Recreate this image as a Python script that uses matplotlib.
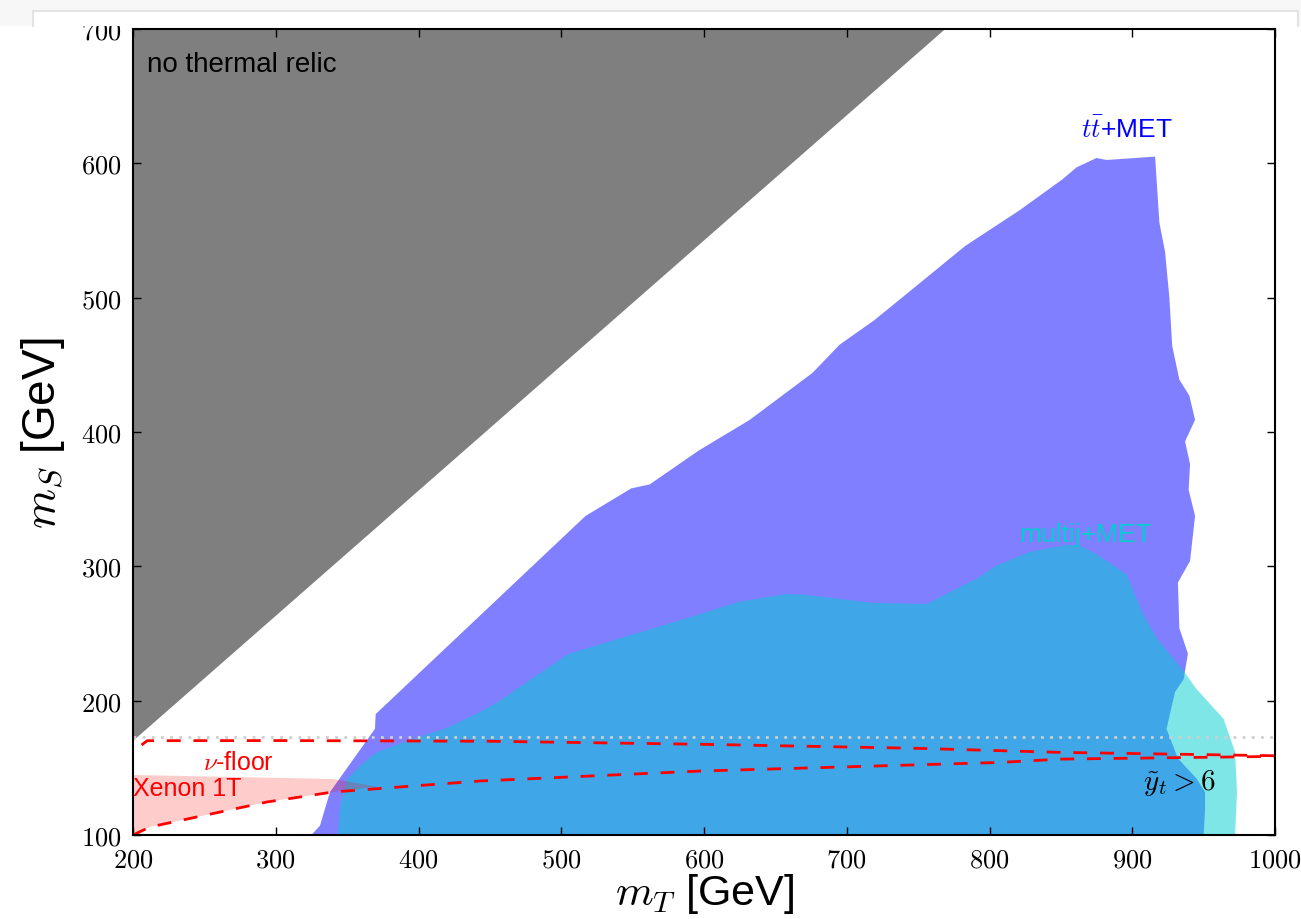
import numpy as np
import matplotlib
matplotlib.use('Agg')
import matplotlib.pyplot as plt
from matplotlib.patches import Rectangle
from matplotlib.lines import Line2D

plt.rcParams['font.family'] = ['Liberation Sans', 'DejaVu Sans']
plt.rcParams['mathtext.fontset'] = 'cm'

# m_T, m_S boundaries (GeV)
relic_mT = [200, 769, 200]
relic_mS = [170, 700, 700]

ttmet_mT = [325, 331, 338, 369.5, 370, 517, 549, 562, 596, 632, 676, 695, 719, 741,
            783, 821, 851, 861, 875, 882, 916, 919, 923, 926, 928, 933, 940, 944,
            937, 940.5, 939.5, 944, 940.5, 932, 933, 939, 936, 930, 924, 932, 945,
            951, 951, 950]
ttmet_mS = [100, 107, 132, 179, 190, 337.5, 358, 361, 386, 409, 444, 465, 483, 502,
            538.5, 565, 588, 597, 604, 602.5, 605, 556, 534, 500, 464, 439, 427, 409,
            393, 376, 357, 337.5, 304, 288, 254, 235, 216, 206.5, 179, 157, 142,
            132, 119, 100]

multij_mT = [343.6, 345, 350, 359, 367, 373, 396, 420, 443, 454, 505, 549, 590, 624,
             658, 671.5, 719, 756, 793, 804, 828, 855, 865, 875, 896, 907.5, 917,
             936, 945, 964, 972, 973.4, 972]
multij_mS = [100, 121.6, 141.7, 151.4, 158.8, 162.5, 171.5, 179.7, 191.6, 198, 234.7,
             249, 262, 273.5, 279.4, 278.7, 272.7, 272, 292, 300, 310.7, 316.2, 314.5,
             309, 294, 264.5, 246.6, 222, 208.7, 186.4, 161.8, 132, 100]

nufloor_mT = [206, 210, 300, 450, 600, 750, 850, 1000]
nufloor_mS = [167, 170.2, 170.3, 169.8, 167.5, 164.5, 161.5, 159]

xenon_mT = [200, 212, 294, 340, 443, 597, 807, 850, 1000]
xenon_mS = [100, 106, 124.6, 132, 140.2, 147.6, 154, 156.5, 158.5]

# Xenon 1T excluded band: lower edge follows the limit curve up to 340 GeV
band_mT = [200, 212, 294, 340, 371, 340, 200]
band_mS = [100, 106, 124.6, 132, 136, 141.7, 144.7]

m_top = 173

xticks = [200, 300, 400, 500, 600, 700, 800, 900, 1000]
yticks = [100, 200, 300, 400, 500, 600, 700]

fig = plt.figure(figsize=(13.01, 9.2), dpi=100)
ax = fig.add_axes([133 / 1301, 1 - 836 / 920, 1142 / 1301, 806 / 920])

ax.fill(relic_mT, relic_mS, color='black', alpha=0.5, lw=0)
ax.fill(ttmet_mT, ttmet_mS, color='blue', alpha=0.5, lw=0)
ax.fill(multij_mT, multij_mS, color='darkturquoise', alpha=0.5, lw=0)
ax.fill(band_mT, band_mS, color='red', alpha=0.2, lw=0)

ax.plot([200, 1000], [m_top, m_top], color='#cfcfcf', lw=2, dashes=(1, 2.3))
ax.plot(nufloor_mT, nufloor_mS, color='red', lw=2, dashes=(5, 4.6))
ax.plot(xenon_mT, xenon_mS, color='red', lw=2, dashes=(5, 4.6))

ax.text(210, 668.7, 'no thermal relic', fontsize=20, color='black', va='baseline')
ax.text(896, 619.6, r'$t\bar{t}$+MET', fontsize=19, color='blue', ha='center', va='baseline')
ax.text(867, 319, 'multij+MET', fontsize=19, color='darkturquoise', ha='center', va='baseline')
ax.text(274, 149, r'$\nu$-floor', fontsize=18, color='red', ha='center', va='baseline')
ax.text(200.2, 135.2, 'Xenon 1T', fontsize=18, color='red', ha='left', va='center')
ax.text(933, 134.2, r'$\tilde{y}_t > 6$', fontsize=21, color='black', ha='center', va='baseline')

ax.set_xlim(200, 1000)
ax.set_ylim(100, 700)
ax.set_xticks(xticks)
ax.set_yticks(yticks)
ax.set_xticklabels(['$%d$' % v for v in xticks])
ax.set_yticklabels(['$%d$' % v for v in yticks])
ax.tick_params(direction='in', length=6, width=1, labelsize=19, top=True, right=True)
ax.tick_params(axis='x', pad=9)
ax.tick_params(axis='y', pad=8)
for sp in ax.spines.values():
    sp.set_linewidth(1.5)

ax.set_xlabel(r'$m_T$ [GeV]', fontsize=31, labelpad=0)
ax.set_ylabel(r'$m_S$ [GeV]', fontsize=33, labelpad=10)

# header strip along the top edge
W, H = 1301, 920
fig.patches.append(Rectangle((0, 1 - 27 / H), 1, 27 / H, transform=fig.transFigure,
                             facecolor='#f7f7f7', edgecolor='none', zorder=5))
fig.patches.append(Rectangle((33 / W, 1 - 27 / H), (1298 - 33) / W, 15 / H,
                             transform=fig.transFigure, facecolor='white',
                             edgecolor='none', zorder=6))
fig.lines.append(Line2D([33 / W, 33 / W, 1298 / W, 1298 / W],
                        [1 - 27 / H, 1 - 12 / H, 1 - 12 / H, 1 - 27 / H],
                        transform=fig.transFigure, color='#e3e3e3', lw=1.5, zorder=7))

fig.savefig('out.png', dpi=100)
